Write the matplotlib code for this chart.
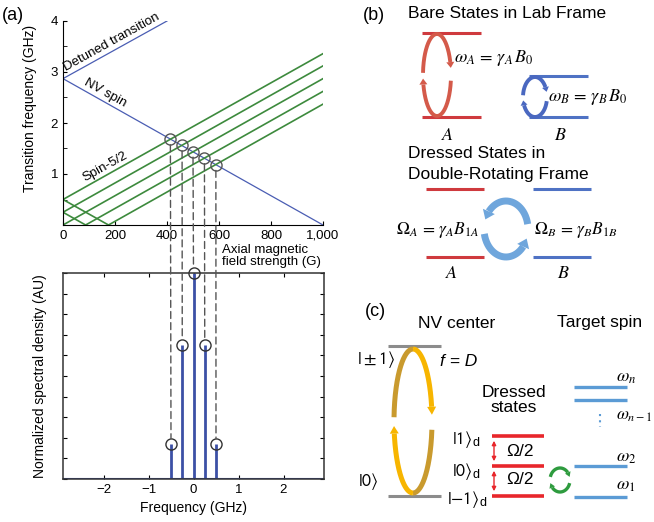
import numpy as np
import matplotlib.pyplot as plt
from matplotlib.patches import FancyArrowPatch, ConnectionPatch, Polygon
from matplotlib.ticker import FuncFormatter, MultipleLocator

plt.rcParams['font.family'] = ['Liberation Sans', 'DejaVu Sans']
plt.rcParams['mathtext.fontset'] = 'stix'

# (a) top: transition frequency vs axial field
nv_field = [0, 1000]
nv_freq = [2.87, 0.0]
detuned_field = [0, 400]
detuned_freq = [2.87, 4.0]
spin52_field = [[0, 1000], [0, 1000], [0, 1000], [0, 87, 1000], [0, 175, 1000]]
spin52_freq = [[0.5, 3.36], [0.25, 3.12], [0.0, 2.87], [0.25, 0.0, 2.62], [0.5, 0.0, 2.37]]
cross_field = [413, 458, 500, 544, 588]
cross_freq = [1.68, 1.56, 1.44, 1.31, 1.18]
field_ticks = [0, 200, 400, 600, 800, 1000]
freq_ticks = [1, 2, 3, 4]

# (a) bottom: spectrum
peak_freq = [-0.5, -0.25, 0.0, 0.25, 0.5]
peak_height = [0.17, 0.65, 1.0, 0.65, 0.17]
spec_ticks = [-2, -1, 0, 1, 2]

W, H = 654, 522
fig = plt.figure(figsize=(W / 100, H / 100), dpi=100)


def px_axes(l, t, r, b):
    return fig.add_axes([l / W, 1 - b / H, (r - l) / W, (b - t) / H])


nv_col = '#4a5db3'
green = '#3d8a3d'

# ---- top plot
ax1 = px_axes(63, 21, 323, 225)
ax1.plot(nv_field, nv_freq, color=nv_col, lw=0.9)
ax1.plot(detuned_field, detuned_freq, color=nv_col, lw=0.9)
for fb, ff in zip(spin52_field, spin52_freq):
    ax1.plot(fb, ff, color=green, lw=1.2)
ax1.plot(cross_field, cross_freq, 'o', mfc='none', mec='#555555', ms=8, mew=1)
ax1.set_xlim(0, 1000)
ax1.set_ylim(0, 4)
ax1.spines['top'].set_visible(False)
ax1.spines['right'].set_visible(False)
ax1.set_xticks(field_ticks)
ax1.xaxis.set_major_formatter(FuncFormatter(lambda v, p: f'{int(v):,}'))
ax1.set_yticks(freq_ticks)
ax1.yaxis.set_minor_locator(MultipleLocator(0.5))
ax1.tick_params(which='both', direction='in', length=3, labelsize=9.5)
ax1.set_ylabel('Transition frequency (GHz)', fontsize=10)
ax1.yaxis.set_label_coords(-0.10, 0.57)
ax1.text(18, 2.97, 'Detuned transition', rotation=29, rotation_mode='anchor',
         ha='left', va='bottom', fontsize=9.5)
ax1.text(75, 2.70, 'NV spin', rotation=-29, rotation_mode='anchor',
         ha='left', va='bottom', fontsize=9.5)
ax1.text(90, 0.80, 'Spin-5/2', rotation=29, rotation_mode='anchor',
         ha='left', va='bottom', fontsize=9.5)
fig.text(222 / W, 1 - 256 / H, 'Axial magnetic\nfield strength (G)', ha='left',
         va='center', fontsize=9.5, linespacing=1.1)

# ---- bottom plot
ax2 = px_axes(63, 273, 324, 479)
spec_col = '#3c50a6'
ax2.axhline(0, color=spec_col, lw=1.5)
ax2.vlines(peak_freq, 0, peak_height, color=spec_col, lw=2)
ax2.plot(peak_freq, peak_height, 'o', mfc='none', mec='#333333', ms=8, mew=1,
         clip_on=False, zorder=5)
ax2.set_xlim(-2.9, 2.9)
ax2.set_ylim(0, 1)
ax2.set_xticks(spec_ticks)
ax2.set_yticks(np.arange(0, 1.01, 0.1))
ax2.set_yticklabels([])
ax2.tick_params(direction='in', length=3, top=True, right=True, labelsize=9.5)
for s in ax2.spines.values():
    s.set_color('#333333')
    s.set_linewidth(1.1)
ax2.set_xlabel('Frequency (GHz)', fontsize=10)
ax2.set_ylabel('Normalized spectral density (AU)', fontsize=10)
ax2.yaxis.set_label_coords(-0.06, 0.5)

for bf, bq, pf, ph in zip(cross_field, cross_freq, peak_freq, peak_height):
    con = ConnectionPatch(xyA=(bf, bq), coordsA='data', axesA=ax1,
                          xyB=(pf, ph), coordsB='data', axesB=ax2,
                          linestyle=(0, (5, 3)), color='#555555', lw=1,
                          shrinkA=4, shrinkB=4)
    fig.add_artist(con)

fig.text(2 / W, 1 - 16 / H, '(a)', fontsize=13, va='center')

# ---- diagrams (b) and (c), drawn in pixel space
axd = fig.add_axes([0, 0, 1, 1])
axd.set_xlim(0, W)
axd.set_ylim(H, 0)
axd.axis('off')
axd.patch.set_alpha(0)


def level(x0, x1, y, color, lw=2.2):
    axd.plot([x0, x1], [y, y], color=color, lw=lw, solid_capstyle='butt')


def arc(cx, cy, rx, ry, t1, t2, color, lw, head=None):
    # elliptical arc in pixel space; head = (length, width) in pixels
    t = np.radians(np.linspace(t1, t2, 200))
    pts = np.column_stack([cx + rx * np.cos(t), cy + ry * np.sin(t)])
    if head is None:
        axd.plot(pts[:, 0], pts[:, 1], color=color, lw=lw, solid_capstyle='butt')
        return
    hl, hw = head
    seg = np.hypot(*np.diff(pts, axis=0).T)
    cum = np.concatenate([[0], np.cumsum(seg)])
    idx = np.searchsorted(cum, cum[-1] - hl)
    shaft = pts[:idx + 1]
    axd.plot(shaft[:, 0], shaft[:, 1], color=color, lw=lw, solid_capstyle='butt')
    tip = pts[-1]
    base = pts[idx]
    d = (tip - base) / np.hypot(*(tip - base))
    n = np.array([-d[1], d[0]])
    axd.add_patch(Polygon([tip, base + n * hw / 2, base - n * hw / 2],
                          closed=True, color=color, lw=0))


# (b)
axd.text(363, 15, '(b)', fontsize=13, va='center')
axd.text(408, 14, 'Bare States in Lab Frame', fontsize=12.5, va='center')
red_b = '#cf3a3e'
blue_b = '#4f72c4'
level(422, 481, 33, red_b)
level(422, 481, 117, red_b)
level(529, 588, 76, blue_b)
level(529, 588, 117, blue_b)
ell_r = '#d45a4a'
arc(437, 75, 14, 41, 183, 350, ell_r, 2.8, head=(6, 8))
arc(437, 75, 14, 41, 8, 175, ell_r, 2.8, head=(6, 8))
ell_b = '#4a68c0'
arc(535, 97, 12, 20, 185, 345, ell_b, 2.8, head=(5, 7))
arc(535, 97, 12, 20, 12, 170, ell_b, 2.8, head=(5, 7))
axd.text(454, 58, r'$\omega_A\,=\,\gamma_A\,B_0$', fontsize=13, va='center')
axd.text(548, 97, r'$\omega_B\,=\,\gamma_B\,B_0$', fontsize=13, va='center')
axd.text(448, 135, r'$A$', fontsize=13, ha='center', va='center')
axd.text(560, 135, r'$B$', fontsize=13, ha='center', va='center')
axd.text(408, 154, 'Dressed States in', fontsize=12.5, va='center')
axd.text(408, 174, 'Double-Rotating Frame', fontsize=12.5, va='center')
level(426, 484, 189, red_b)
level(426, 484, 257, red_b)
level(533, 591, 189, blue_b)
level(533, 591, 257, blue_b)
lb = '#6fa6dc'
arc(506, 229, 22, 28, 350, 200, lb, 5, head=(9, 13))
arc(506, 229, 22, 28, 170, 20, lb, 5, head=(9, 13))
axd.text(396, 230, r'$\Omega_A\,=\,\gamma_A B_{1A}$', fontsize=12.5, va='center')
axd.text(534, 230, r'$\Omega_B\,=\,\gamma_B B_{1B}$', fontsize=12.5, va='center')
axd.text(452, 273, r'$A$', fontsize=13, ha='center', va='center')
axd.text(563, 273, r'$B$', fontsize=13, ha='center', va='center')

# (c)
axd.text(365, 312, '(c)', fontsize=13, va='center')
axd.text(418, 323, 'NV center', fontsize=12.5, va='center')
axd.text(557, 323, 'Target spin', fontsize=12.5, va='center')
gray = '#8c8c8c'
level(388, 441, 346, gray)
level(388, 441, 496, gray)
dark_gold = '#c99a2e'
gold = '#f7b500'
arc(413, 421, 19, 72, 183, 270, dark_gold, 3.6)
arc(413, 421, 19, 72, 270, 355, gold, 3.6, head=(8, 9))
arc(413, 421, 19, 72, 7, 90, dark_gold, 3.6)
arc(413, 421, 19, 72, 90, 176, gold, 3.6, head=(8, 9))
axd.text(357, 360, r'$\mathsf{|\pm1\rangle}$', fontsize=13, va='center')
axd.text(440, 362, 'f = D', fontsize=12.5, style='italic', va='center')
axd.text(358, 482, r'$\mathsf{|0\rangle}$', fontsize=13, va='center')
axd.text(514, 400, 'Dressed\nstates', fontsize=12.5, ha='center', va='center',
         linespacing=1.05)
red_c = '#e8262b'
for y in (436, 466, 496):
    level(492, 544, y, red_c, lw=2.6)
for y0, y1 in ((438, 464), (468, 494)):
    axd.add_patch(FancyArrowPatch((494, y0), (494, y1), arrowstyle='<|-|>',
                                  mutation_scale=6, color=red_c, lw=1))
axd.text(506, 452, 'Ω/2', fontsize=12.5, va='center')
axd.text(506, 480, 'Ω/2', fontsize=12.5, va='center')
axd.text(452, 439, r'$\mathsf{|1\rangle}_{\mathregular{d}}$', fontsize=13, va='center')
axd.text(452, 471, r'$\mathsf{|0\rangle}_{\mathregular{d}}$', fontsize=13, va='center')
axd.text(447, 500, r'$\mathsf{|{-}1\rangle}_{\mathregular{d}}$', fontsize=13, va='center')
gr = '#2e9b3e'
arc(560, 480, 10, 12, 195, 345, gr, 2.4, head=(5, 6))
arc(560, 480, 10, 12, 15, 165, gr, 2.4, head=(5, 6))
blue_c = '#5b9bd5'
for y in (387, 400, 466, 497):
    level(574, 627, y, blue_c, lw=2.4)
axd.plot([600, 600], [414, 427], color=blue_c, lw=1.5, linestyle=(0, (1, 2)))
axd.text(616, 377, r'$\omega_n$', fontsize=13, va='center')
axd.text(616, 416, r'$\omega_{n-1}$', fontsize=12.5, va='center')
axd.text(616, 457, r'$\omega_2$', fontsize=13, va='center')
axd.text(616, 485, r'$\omega_1$', fontsize=13, va='center')

fig.savefig('out.png', dpi=100)
